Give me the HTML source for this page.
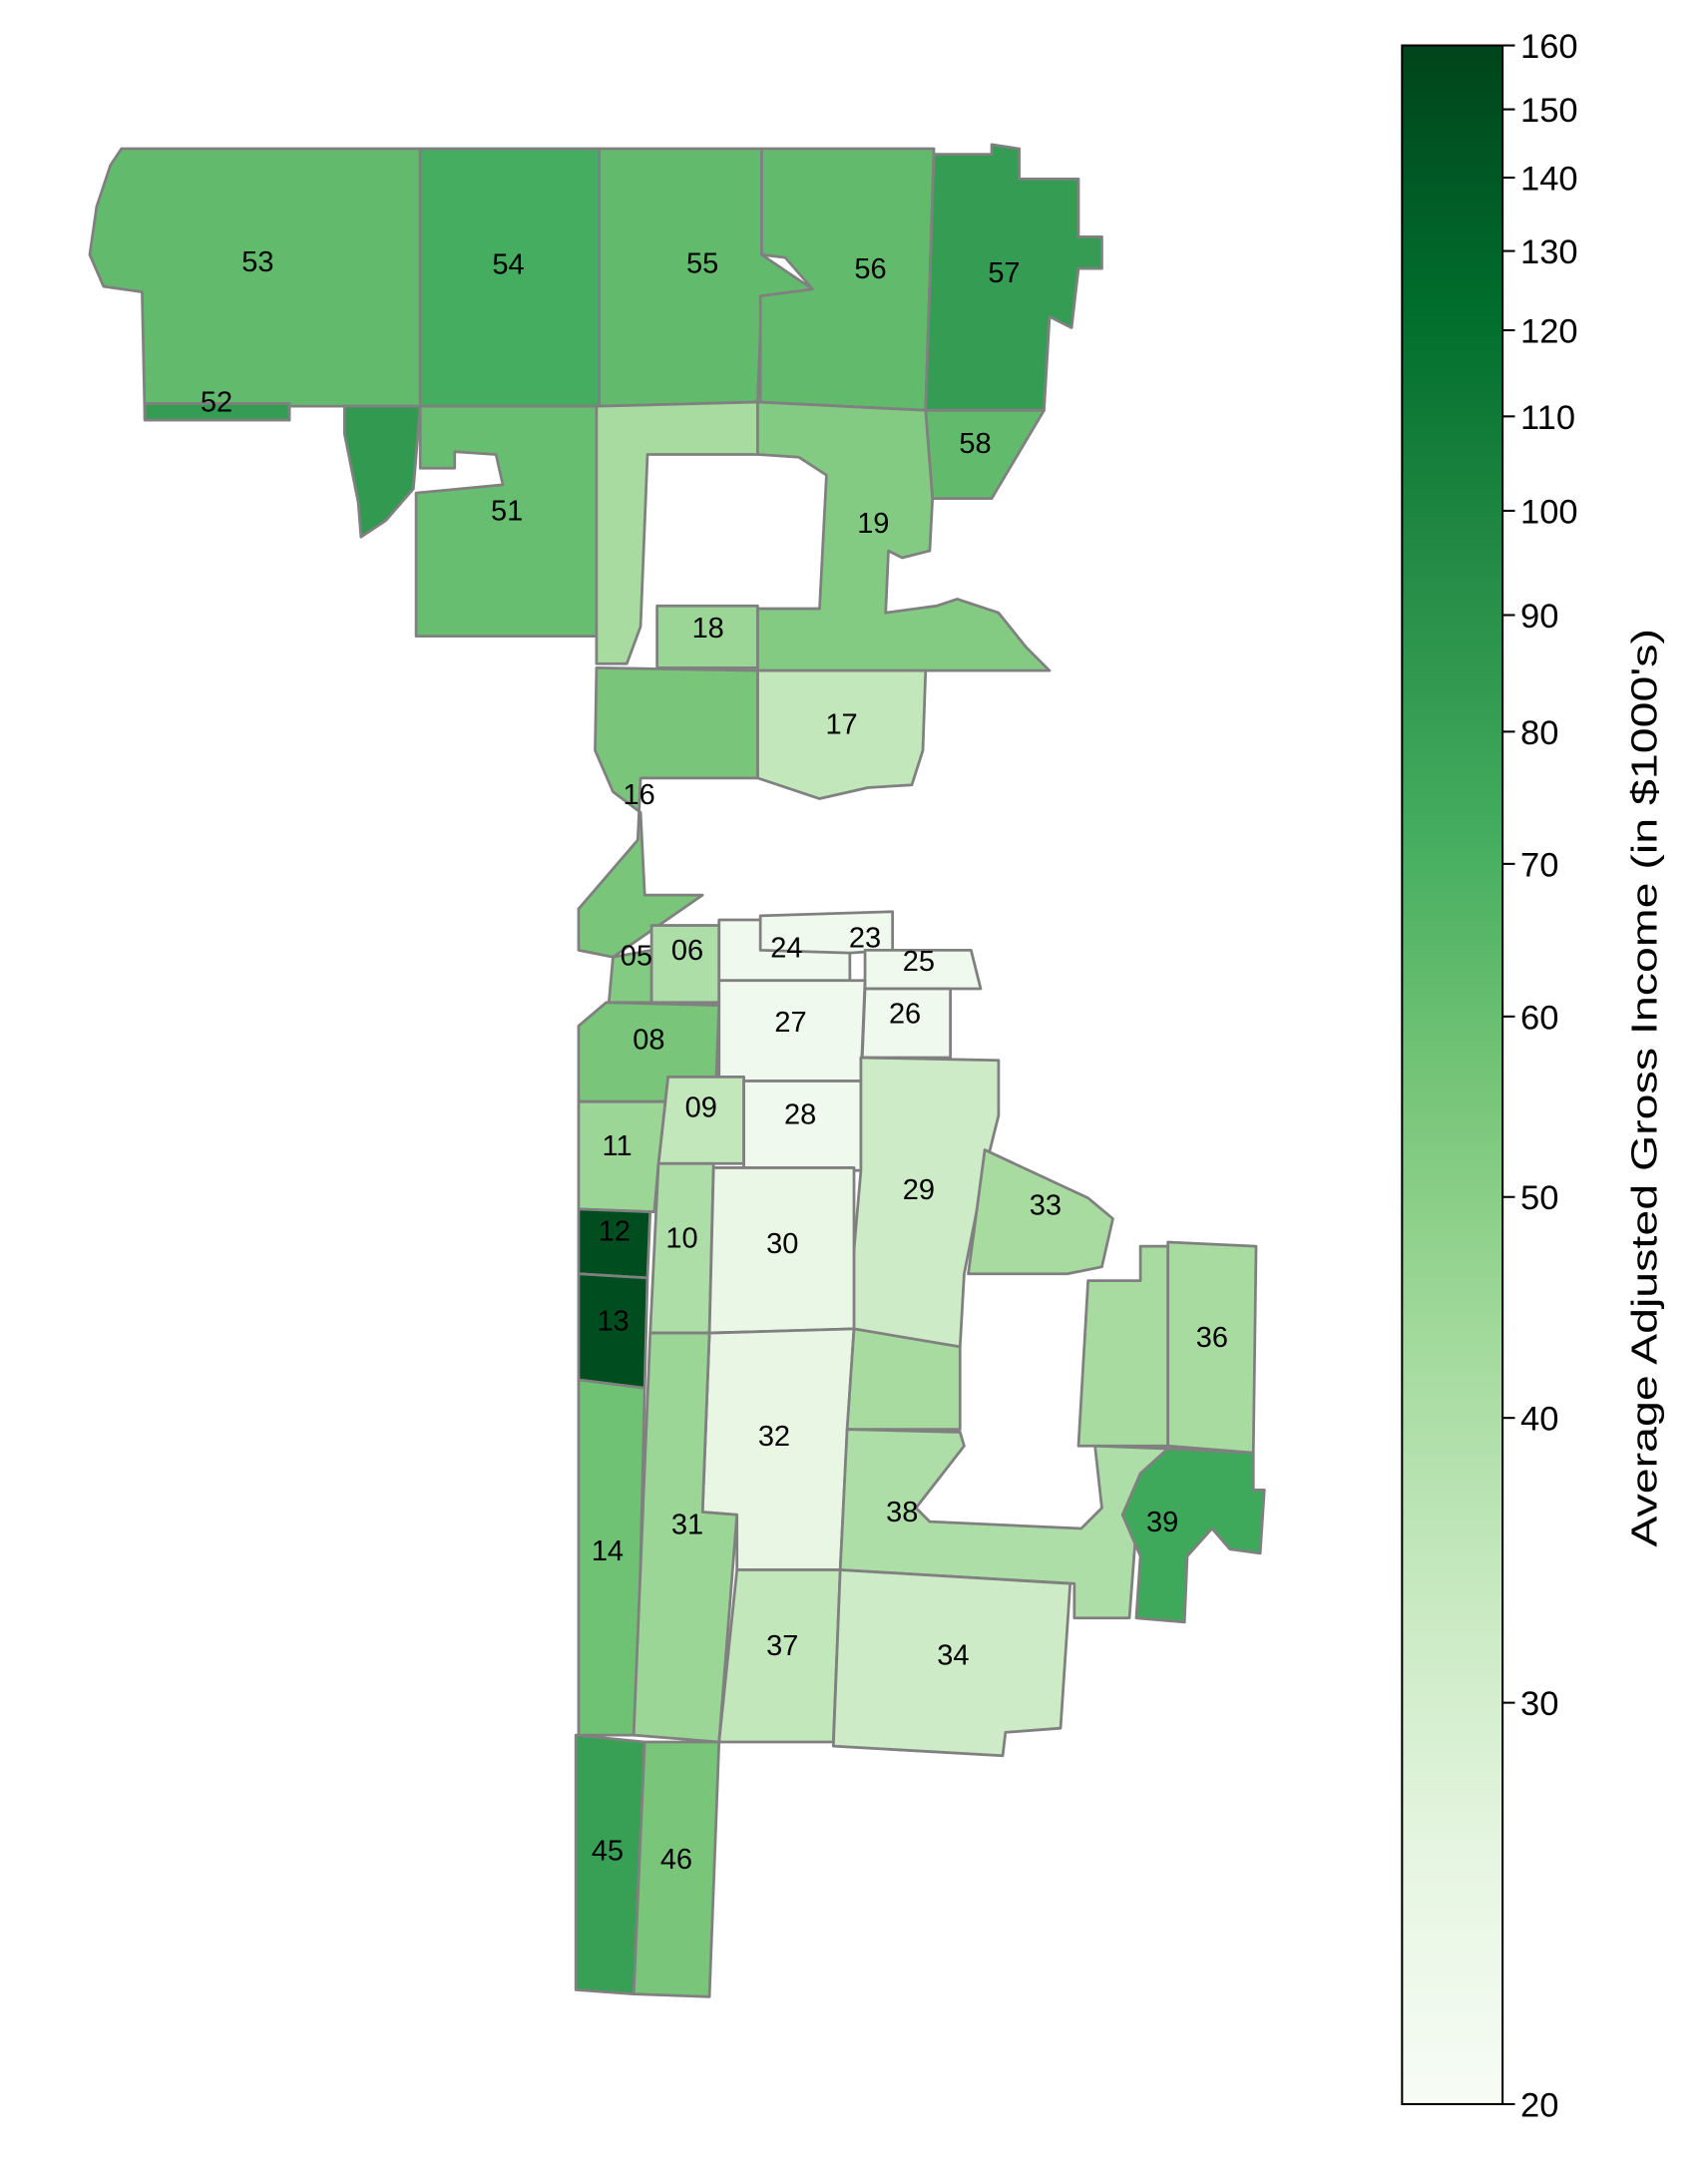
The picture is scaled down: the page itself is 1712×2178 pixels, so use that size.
<!DOCTYPE html>
<html><head><meta charset="utf-8"><style>
html,body{margin:0;padding:0;background:#fff;}
svg{display:block;}
text{font-family:"Liberation Sans","DejaVu Sans",sans-serif;}
</style></head><body>
<svg id="chart" width="1712" height="2178" viewBox="0 0 1240 1578" xmlns="http://www.w3.org/2000/svg">
<defs>
<linearGradient id="greens" x1="0" y1="1" x2="0" y2="0">
<stop offset="0" stop-color="#f7fcf5"/><stop offset="0.125" stop-color="#e5f5e0"/><stop offset="0.25" stop-color="#c7e9c0"/><stop offset="0.375" stop-color="#a1d99b"/><stop offset="0.5" stop-color="#74c476"/><stop offset="0.625" stop-color="#41ab5d"/><stop offset="0.75" stop-color="#238b45"/><stop offset="0.875" stop-color="#006d2c"/><stop offset="1" stop-color="#00441b"/>
</linearGradient>
</defs>
<g id="map"></g>
<g id="labels"></g>
<g id="cbar">
<rect x="1018" y="33" width="73" height="1495" fill="url(#greens)" stroke="#000" stroke-width="1.5"/>
<text transform="translate(1203,790) rotate(-90)" text-anchor="middle" font-size="26" textLength="667" lengthAdjust="spacingAndGlyphs" fill="#000">Average Adjusted Gross Income (in $1000's)</text>
</g>
</svg>
<script>
const regionIds = ["53","52","54","55","56","57","58","50","51","47","19","18","17","16","05","06","24","23","25","27","26","08","09","28","11","29","33","12","13","10","30","35","36","32","35b","38","39","14","31","37","34","45","46"];
const regionValues = [62,82,72,62,62,82,62,84,60,42,52,45,35,55,52,40,22,22,22,22,22,55,35,22,45,32,42,150,150,40,24,42,42,25,42,40,75,58,45,35,32,80,55];
const regionLabels = ["53","52","54","55","56","57","58","","51","","19","18","17","16","05","06","24","23","25","27","26","08","09","28","11","29","33","12","13","10","30","","36","32","","38","39","14","31","37","34","45","46"];
const tickValues = [20,30,40,50,60,70,80,90,100,110,120,130,140,150,160];
const tickLabels = ["20","30","40","50","60","70","80","90","100","110","120","130","140","150","160"];
const shapes = {
"53":"88,108 305,108 305,295 210,295 210,305 105,305 103,212 75,208 65,185 70,150 80,120",
"52":"105,293 210,293 210,305 105,305",
"54":"305,108 435,108 435,295 305,295",
"55":"435,108 553,108 553,185 590,210 553,215 550,292 435,295",
"56":"553,108 678,108 672,298 552,292 552,215 590,210 570,187 553,185",
"57":"678,112 720,112 720,105 740,108 740,130 783,130 783,172 800,172 800,195 783,195 778,238 762,230 758,298 672,298",
"58":"672,298 758,298 720,362 677,362",
"50":"250,295 305,295 300,355 280,378 262,390 260,365 250,315",
"51":"305,295 433,295 433,462 302,462 302,358 365,352 360,330 330,328 330,340 305,340",
"47":"433,295 550,292 550,330 470,330 465,455 455,482 433,482",
"19":"550,292 672,298 677,362 675,400 655,405 645,400 643,445 680,440 695,435 725,445 745,470 762,487 550,487 550,442 595,442 600,345 580,332 550,330",
"18":"477,440 550,440 550,485 477,485",
"17":"550,487 672,487 670,545 662,570 630,572 595,580 550,565",
"16":"433,485 550,487 550,565 495,565 465,565 463,610 420,660 420,690 445,695 510,650 468,650 465,590 445,575 432,545",
"05":"445,695 473,690 473,728 442,728",
"06":"473,672 522,672 522,728 473,728",
"24":"522,668 617,668 617,712 522,712",
"23":"552,665 648,662 648,690 617,692 552,690",
"25":"628,690 705,690 712,718 628,718",
"27":"522,712 628,712 625,785 522,785",
"26":"628,718 690,718 690,768 626,768",
"08":"420,745 440,728 522,730 520,782 485,782 483,800 420,800",
"09":"485,782 540,782 540,845 478,845",
"28":"540,785 625,785 625,850 540,848",
"11":"420,800 483,800 478,845 475,880 420,878",
"29":"625,768 725,770 725,810 715,850 700,925 697,978 615,965 625,850",
"33":"715,835 790,870 808,885 800,920 775,925 703,925",
"12":"420,878 472,880 470,928 420,925",
"13":"420,925 470,928 468,1008 420,1002",
"10":"478,845 518,845 515,968 472,968",
"30":"518,848 620,848 620,965 515,968",
"35":"790,930 828,930 828,905 848,905 848,1050 783,1050",
"36":"848,902 912,905 910,1055 848,1050",
"32":"515,968 620,965 615,1040 610,1140 535,1140 535,1100 510,1098",
"35b":"620,965 697,978 697,1038 615,1038",
"38":"615,1038 697,1040 700,1050 665,1095 675,1105 785,1110 800,1095 795,1050 848,1052 828,1070 820,1175 780,1175 780,1150 610,1140",
"39":"848,1052 910,1055 910,1082 918,1082 915,1128 893,1125 880,1110 862,1130 860,1178 825,1175 828,1130 815,1100 828,1070",
"14":"420,1002 468,1008 462,1260 420,1260",
"31":"472,968 515,968 510,1098 535,1100 522,1265 460,1260",
"37":"535,1140 610,1140 605,1265 522,1265",
"34":"610,1140 777,1150 770,1255 730,1258 728,1275 605,1268",
"45":"418,1260 468,1265 460,1448 418,1445",
"46":"468,1265 522,1265 515,1450 460,1448"
};
const labelPos = {"53":[187,190],"52":[157,292],"54":[369,192],"55":[510,191],"56":[632,195],"57":[729,198],"58":[708,322],"51":[368,371],"19":[634,380],"18":[514,456],"17":[611,526],"16":[464,577],"05":[462,694],"06":[499,690],"24":[571,688],"23":[628,681],"25":[667,698],"27":[574,742],"26":[657,736],"08":[471,755],"09":[509,804],"28":[581,809],"11":[448,832],"29":[667,864],"33":[759,875],"12":[446,894],"13":[445,959],"10":[495,899],"30":[568,903],"36":[880,971],"32":[562,1043],"38":[655,1098],"39":[844,1105],"14":[441,1126],"31":[499,1107],"37":[568,1195],"34":[692,1202],"45":[441,1344],"46":[491,1350]};
const cbTop=33, cbBot=1528, vMin=20, vMax=160;
function yScale(v){return cbBot-(Math.log(v/vMin)/Math.log(vMax/vMin))*(cbBot-cbTop);}
const stops=["#f7fcf5","#e5f5e0","#c7e9c0","#a1d99b","#74c476","#41ab5d","#238b45","#006d2c","#00441b"];
function hex(c){return [1,3,5].map(i=>parseInt(c.substr(i,2),16));}
function colorFor(v){let t=Math.log(v/vMin)/Math.log(vMax/vMin);t=Math.max(0,Math.min(1,t));const p=t*8,i=Math.min(7,Math.floor(p)),f=p-i;const a=hex(stops[i]),b=hex(stops[i+1]);return "rgb("+a.map((x,k)=>Math.round(x+(b[k]-x)*f)).join(",")+")";}
const NS="http://www.w3.org/2000/svg";
const map=document.getElementById("map"), lab=document.getElementById("labels"), cb=document.getElementById("cbar");
regionIds.forEach((id,i)=>{
  const p=document.createElementNS(NS,"polygon");
  p.setAttribute("points",shapes[id]);
  p.setAttribute("fill",colorFor(regionValues[i]));
  p.setAttribute("stroke","#808080");p.setAttribute("stroke-width","2");p.setAttribute("stroke-linejoin","round");
  
  
  map.appendChild(p);
  if(regionLabels[i] && labelPos[id]){
    const t=document.createElementNS(NS,"text");
    t.setAttribute("x",labelPos[id][0]);t.setAttribute("y",labelPos[id][1]+7);
    t.setAttribute("text-anchor","middle");t.setAttribute("font-size","21");
    t.textContent=regionLabels[i];
    
    
    lab.appendChild(t);
  }
});
tickValues.forEach((v,i)=>{
  const y=yScale(v);
  const l=document.createElementNS(NS,"line");
  l.setAttribute("x1",1091);l.setAttribute("x2",1100);l.setAttribute("y1",y);l.setAttribute("y2",y);l.setAttribute("stroke","#000");l.setAttribute("stroke-width","1.5");
  
  
  cb.appendChild(l);
  const t=document.createElementNS(NS,"text");
  t.setAttribute("x",1104);t.setAttribute("y",y+9);t.setAttribute("font-size","25");
  t.textContent=tickLabels[i];
  
  
  cb.appendChild(t);
});
</script>
</body></html>
